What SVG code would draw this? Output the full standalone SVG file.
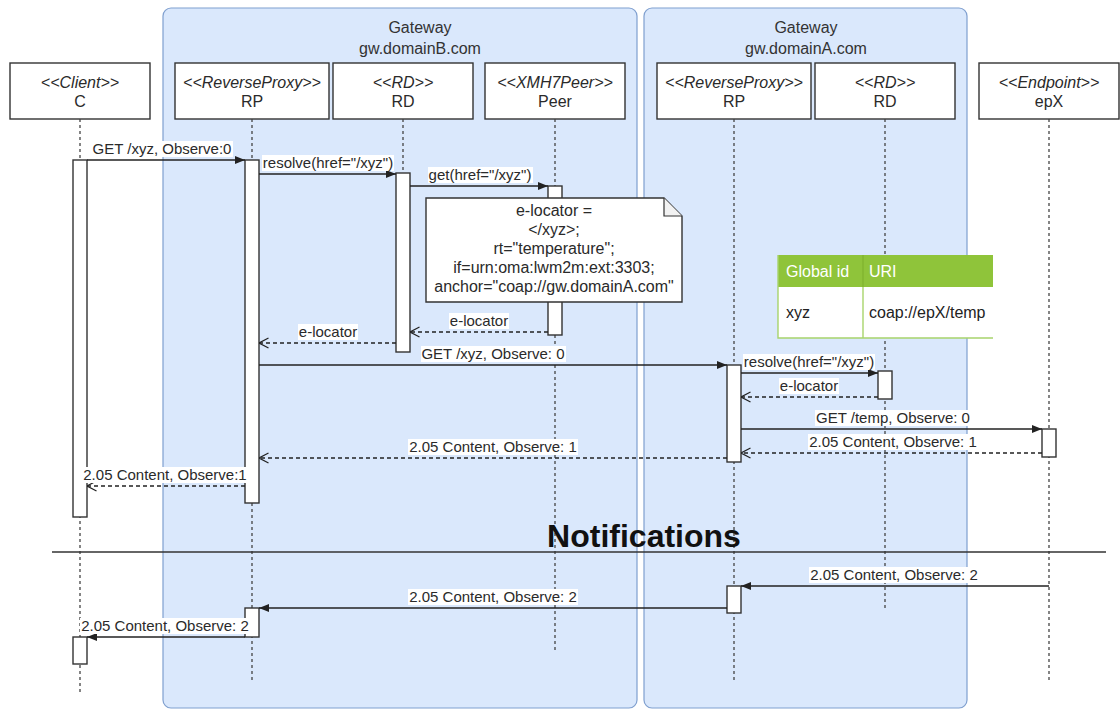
<svg xmlns="http://www.w3.org/2000/svg" width="1120" height="710" viewBox="0 0 1120 710">
  <defs>
    <marker id="block" viewBox="0 0 10 8" refX="10" refY="4" markerWidth="10" markerHeight="8" markerUnits="userSpaceOnUse" orient="auto">
      <path d="M0,0 L10,4 L0,8 Z" fill="#222"/>
    </marker>
    <marker id="open" viewBox="0 0 11 12" refX="10.5" refY="6" markerWidth="11" markerHeight="12" markerUnits="userSpaceOnUse" orient="auto">
      <path d="M1,1 L10.5,6 L1,11" fill="none" stroke="#222" stroke-width="1.3"/>
    </marker>
  </defs>
  <style>
    text { font-family: "Liberation Sans", Arial, Helvetica, sans-serif; fill: #2a2a2a; }
    .gw { fill: #dae8fc; stroke: #7f9fcf; stroke-width: 1.2; }
    .gwt { font-size: 16px; text-anchor: middle; fill: #333; }
    .head { fill: #fff; stroke: #333; stroke-width: 1.4; }
    .st { font-size: 16px; font-style: italic; text-anchor: middle; }
    .nm { font-size: 16px; text-anchor: middle; }
    .life { stroke: #444; stroke-width: 1.3; stroke-dasharray: 3 3; fill: none; }
    .act { fill: #fff; stroke: #333; stroke-width: 1.4; }
    .msg { stroke: #222; stroke-width: 1.4; fill: none; marker-end: url(#block); }
    .ret { stroke: #222; stroke-width: 1.3; fill: none; stroke-dasharray: 4 3; marker-end: url(#open); }
    .lbg { fill: #fff; }
    .lbl { font-size: 15px; text-anchor: middle; }
    .note { fill: #fff; stroke: #333; stroke-width: 1.4; }
    .nt { font-size: 16px; text-anchor: middle; }
    .sep { stroke: #333; stroke-width: 1.6; }
    .big { font-size: 32px; font-weight: bold; text-anchor: middle; fill: #111; }
    .th { fill: #8fc43a; }
    .tb { fill: #fff; }
    .tl { stroke: #a8d46c; stroke-width: 1.4; fill: none; }
    .tht { font-size: 16px; fill: #fff; }
    .tbt { font-size: 16px; fill: #222; }
  </style>

  <!-- gateway containers -->
  <g id="gateway-b">
    <rect class="gw" x="163" y="8" width="474" height="700" rx="8"/>
    <text class="gwt" x="420" y="33">Gateway</text>
    <text class="gwt" x="420" y="54">gw.domainB.com</text>
  </g>
  <g id="gateway-a">
    <rect class="gw" x="644" y="8" width="323" height="700" rx="8"/>
    <text class="gwt" x="806" y="33">Gateway</text>
    <text class="gwt" x="806" y="54">gw.domainA.com</text>
  </g>

  <!-- lifelines -->
  <g id="client-c">
    <rect class="head" x="10" y="63" width="140" height="56"/>
    <text class="st" x="80" y="88">&lt;&lt;Client&gt;&gt;</text>
    <text class="nm" x="80" y="107">C</text>
    <line class="life" x1="80" y1="119" x2="80" y2="693"/>
    <rect class="act" x="73" y="160" width="14" height="357"/>
    <rect class="act" x="73" y="637" width="14" height="27"/>
  </g>
  <g id="rp-b">
    <rect class="head" x="175" y="63" width="154" height="56"/>
    <text class="st" x="252" y="88">&lt;&lt;ReverseProxy&gt;&gt;</text>
    <text class="nm" x="252" y="107">RP</text>
    <line class="life" x1="252" y1="119" x2="252" y2="683"/>
    <rect class="act" x="245" y="160" width="14" height="343"/>
    <rect class="act" x="245" y="608" width="14" height="29"/>
  </g>
  <g id="rd-b">
    <rect class="head" x="333" y="63" width="140" height="56"/>
    <text class="st" x="403" y="88">&lt;&lt;RD&gt;&gt;</text>
    <text class="nm" x="403" y="107">RD</text>
    <line class="life" x1="403" y1="119" x2="403" y2="353"/>
    <rect class="act" x="396" y="173" width="14" height="179"/>
  </g>
  <g id="peer">
    <rect class="head" x="485" y="63" width="140" height="56"/>
    <text class="st" x="555" y="88">&lt;&lt;XMH7Peer&gt;&gt;</text>
    <text class="nm" x="555" y="107">Peer</text>
    <line class="life" x1="555" y1="119" x2="555" y2="650"/>
    <rect class="act" x="548" y="186" width="14" height="149"/>
  </g>
  <g id="rp-a">
    <rect class="head" x="657" y="63" width="154" height="56"/>
    <text class="st" x="734" y="88">&lt;&lt;ReverseProxy&gt;&gt;</text>
    <text class="nm" x="734" y="107">RP</text>
    <line class="life" x1="734" y1="119" x2="734" y2="683"/>
    <rect class="act" x="727" y="365" width="14" height="97"/>
    <rect class="act" x="727" y="586" width="14" height="27"/>
  </g>
  <g id="rd-a">
    <rect class="head" x="815" y="63" width="140" height="56"/>
    <text class="st" x="885" y="88">&lt;&lt;RD&gt;&gt;</text>
    <text class="nm" x="885" y="107">RD</text>
    <line class="life" x1="885" y1="119" x2="885" y2="608"/>
    <rect class="act" x="878" y="371" width="14" height="28"/>
  </g>
  <g id="endpoint-epx">
    <rect class="head" x="979" y="63" width="140" height="56"/>
    <text class="st" x="1049" y="88">&lt;&lt;Endpoint&gt;&gt;</text>
    <text class="nm" x="1049" y="107">epX</text>
    <line class="life" x1="1049" y1="119" x2="1049" y2="683"/>
    <rect class="act" x="1042" y="429" width="14" height="28"/>
  </g>

  <!-- lookup table held by the RD of gw.domainA.com -->
  <g id="rd-table">
    <rect class="tb" x="778" y="287" width="215" height="51"/>
    <rect class="th" x="778" y="255" width="215" height="32"/>
    <path class="tl" d="M778,255 V338 H993"/>
    <line class="tl" x1="863" y1="287" x2="863" y2="338"/>
    <line x1="863" y1="255" x2="863" y2="287" stroke="#7fb32e" stroke-width="1.2"/>
    <text class="tht" x="786" y="277">Global id</text>
    <text class="tht" x="869" y="277">URI</text>
    <text class="tbt" x="786" y="318">xyz</text>
    <text class="tbt" x="869" y="318">coap://epX/temp</text>
  </g>

  <!-- separator between the request phase and the notifications -->
  <g id="notifications">
    <line class="sep" x1="52" y1="552" x2="1106" y2="552"/>
    <text class="big" x="644" y="547">Notifications</text>
  </g>

  <!-- messages -->
  <g id="connectors">
    <line class="msg" x1="87" y1="160" x2="245" y2="160"/>
    <line class="msg" x1="259" y1="174" x2="396" y2="174"/>
    <line class="msg" x1="410" y1="186" x2="548" y2="186"/>
    <line class="ret" x1="548" y1="332" x2="410" y2="332"/>
    <line class="ret" x1="396" y1="343" x2="259" y2="343"/>
    <line class="msg" x1="259" y1="365" x2="727" y2="365"/>
    <line class="msg" x1="741" y1="373" x2="878" y2="373"/>
    <line class="ret" x1="878" y1="397" x2="741" y2="397"/>
    <line class="msg" x1="741" y1="429" x2="1042" y2="429"/>
    <line class="ret" x1="1042" y1="453" x2="741" y2="453"/>
    <line class="ret" x1="727" y1="458" x2="259" y2="458"/>
    <line class="ret" x1="245" y1="486" x2="87" y2="486"/>
    <line class="msg" x1="1049" y1="586" x2="741" y2="586"/>
    <line class="msg" x1="727" y1="608" x2="259" y2="608"/>
    <line class="msg" x1="245" y1="637" x2="87" y2="637"/>

    <!-- labels -->
    <rect class="lbg" x="92" y="141" width="141" height="16"/>
    <text class="lbl" x="162" y="154">GET /xyz, Observe:0</text>
    <rect class="lbg" x="262" y="155" width="132" height="16"/>
    <text class="lbl" x="328" y="168">resolve(href="/xyz")</text>
    <rect class="lbg" x="428" y="167" width="105" height="16"/>
    <text class="lbl" x="480" y="180">get(href="/xyz")</text>
    <rect class="lbg" x="449" y="313" width="60" height="16"/>
    <text class="lbl" x="479" y="326">e-locator</text>
    <rect class="lbg" x="298" y="324" width="60" height="16"/>
    <text class="lbl" x="328" y="337">e-locator</text>
    <rect class="lbg" x="421" y="346" width="145" height="16"/>
    <text class="lbl" x="493" y="359">GET /xyz, Observe: 0</text>
    <rect class="lbg" x="743" y="354" width="132" height="16"/>
    <text class="lbl" x="809" y="367">resolve(href="/xyz")</text>
    <rect class="lbg" x="779" y="378" width="60" height="16"/>
    <text class="lbl" x="809" y="391">e-locator</text>
    <rect class="lbg" x="815" y="410" width="156" height="16"/>
    <text class="lbl" x="893" y="423">GET /temp, Observe: 0</text>
    <rect class="lbg" x="808" y="434" width="170" height="16"/>
    <text class="lbl" x="893" y="447">2.05 Content, Observe: 1</text>
    <rect class="lbg" x="408" y="439" width="170" height="16"/>
    <text class="lbl" x="493" y="452">2.05 Content, Observe: 1</text>
    <rect class="lbg" x="83" y="467" width="165" height="16"/>
    <text class="lbl" x="165" y="480">2.05 Content, Observe:1</text>
    <rect class="lbg" x="809" y="567" width="170" height="16"/>
    <text class="lbl" x="894" y="580">2.05 Content, Observe: 2</text>
    <rect class="lbg" x="408" y="589" width="170" height="16"/>
    <text class="lbl" x="493" y="602">2.05 Content, Observe: 2</text>
    <rect class="lbg" x="80" y="618" width="170" height="16"/>
    <text class="lbl" x="165" y="631">2.05 Content, Observe: 2</text>
  </g>

  <!-- note with the returned link -->
  <g id="e-locator-note">
    <path class="note" d="M426,198 H664 L682,216 V302 H426 Z"/>
    <path d="M664,198 V216 H682" fill="#f2f2f2" stroke="#333" stroke-width="1.2"/>
    <text class="nt" x="554" y="216">e-locator =</text>
    <text class="nt" x="554" y="235">&lt;/xyz&gt;;</text>
    <text class="nt" x="554" y="254">rt="temperature";</text>
    <text class="nt" x="554" y="273">if=urn:oma:lwm2m:ext:3303;</text>
    <text class="nt" x="554" y="292">anchor="coap://gw.domainA.com"</text>
  </g>
</svg>
